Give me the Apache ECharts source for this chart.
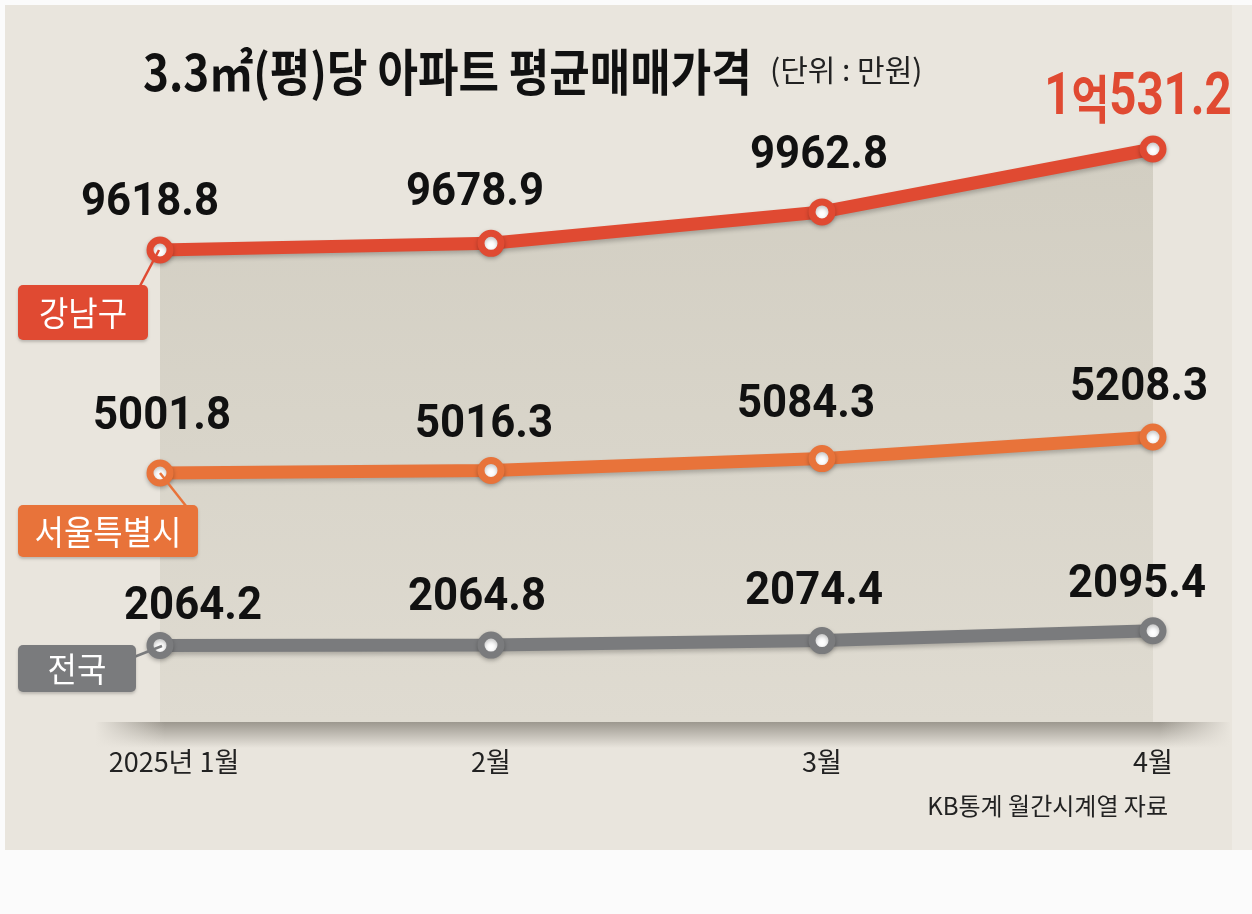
<!DOCTYPE html>
<html><head><meta charset="utf-8">
<script src="https://cdn.jsdelivr.net/npm/echarts@6/dist/echarts.min.js"></script>
<style>html,body{margin:0;padding:0;background:#fff}#c{width:1252px;height:914px}</style>
</head><body><div id="c"></div>
<script>
// ---- data ----
const months = ['2025년 1월', '2월', '3월', '4월'];
const gangnam = [9618.8, 9678.9, 9962.8, 10531.2];
const seoul = [5001.8, 5016.3, 5084.3, 5208.3];
const national = [2064.2, 2064.8, 2074.4, 2095.4];
const seriesNames = ['강남구', '서울특별시', '전국'];
const titleText = '3.3㎡(평)당 아파트 평균매매가격';
const unitText = '(단위 : 만원)';
const sourceText = 'KB통계 월간시계열 자료';

// ---- style ----
const RED = '#e04a32', ORANGE = '#e8733a', GREY = '#7a7b7d';
const BG = '#e9e5dd';
const NUM_FONT = "Roboto,'Noto Sans',sans-serif";
const KR_FONT = "'Noto Sans CJK KR','Noto Sans',sans-serif";
const GRID = {left: 160, right: 99, top: 100, bottom: 192};
// value-label nudges per point, relative to the point (style config)
const nudge = {
  red: [[-10, -46], [-16, -50], [-3, -55], [-15, -50]],
  orange: [[2, -55], [-7, -45], [-16, -53], [-14, -49]],
  grey: [[33, -38], [-14, -47], [-8, -48], [-16, -45]]
};

function labelText(v) {
  if (v >= 10000) {
    return {text: '{d|' + Math.floor(v / 10000) + '}{k|억}{d|' + (v % 10000).toFixed(1) + '}', big: true};
  }
  return {text: v.toFixed(1), big: false};
}

function lineSeries(name, data, color, axis, area) {
  const s = {
    name: name, type: 'line', yAxisIndex: axis, data: data,
    symbol: 'circle', symbolSize: 20,
    itemStyle: {color: '#fff', borderColor: color, borderWidth: 7,
      shadowColor: 'rgba(0,0,0,0.25)', shadowBlur: 4, shadowOffsetY: 2},
    lineStyle: {color: color, width: 13, shadowColor: 'rgba(0,0,0,0.22)', shadowBlur: 4, shadowOffsetY: 3},
    label: {show: false},
    emphasis: {disabled: true},
    silent: true,
    z: 3
  };
  if (area) {
    s.areaStyle = {
      origin: 'start', opacity: 1,
      color: new echarts.graphic.LinearGradient(0, 0, 0, 1, [
        {offset: 0, color: '#d2cec2'}, {offset: 1, color: '#dfdbd1'}
      ])
    };
  }
  return s;
}

function labelSeries(data, axis, sh) {
  return {
    type: 'custom', yAxisIndex: axis, clip: false, silent: true, z: 6,
    data: data.map((v, i) => [i, v]),
    renderItem: function (params, api) {
      const i = params.dataIndex;
      const p = api.coord([api.value(0), api.value(1)]);
      const t = labelText(api.value(1));
      return {
        type: 'text',
        x: p[0] + sh[i][0], y: p[1] + sh[i][1],
        scaleX: t.big ? 0.79 : 0.95,
        style: {
          text: t.text,
          fill: '#111',
          font: 'bold 46px ' + NUM_FONT,
          textAlign: 'center', textVerticalAlign: 'middle',
          rich: {
            d: {fontFamily: NUM_FONT, fontWeight: 'bold', fontSize: 60, fill: RED, color: RED},
            k: {fontFamily: KR_FONT, fontWeight: 'bold', fontSize: 52, fill: RED, color: RED}
          }
        }
      };
    }
  };
}

function nameBox(x, y, w, h, color, text, line) {
  return {
    type: 'group', children: [
      {type: 'polyline', z: 20, shape: {points: line}, style: {stroke: color, lineWidth: 2.5, fill: null}},
      {type: 'rect', z: 20, shape: {x: x, y: y, width: w, height: h, r: 5},
        style: {fill: color, shadowColor: 'rgba(0,0,0,0.2)', shadowBlur: 3, shadowOffsetY: 2}},
      {type: 'text', z: 21, x: x + w / 2, y: y + h / 2 + 1, scaleX: 0.94,
        style: {text: text, fill: '#fff', font: '400 34px ' + KR_FONT, textAlign: 'center', textVerticalAlign: 'middle'}}
    ]
  };
}

const chart = echarts.init(document.getElementById('c'), null, {renderer: 'canvas'});
const option = {
  backgroundColor: '#fbfbfb',
  animation: false,
  grid: GRID,
  xAxis: {
    type: 'category', boundaryGap: false,
    data: months.map((m, i) => i === 0 ? {value: m, textStyle: {padding: [0, 0, 0, 28]}} : m),
    axisLine: {show: false}, axisTick: {show: false}, splitLine: {show: false},
    axisLabel: {margin: 26, fontFamily: KR_FONT, fontSize: 27, color: '#222'}
  },
  yAxis: [
    {type: 'value', show: false, min: 5355.0, max: 10973.8, splitLine: {show: false}},
    {type: 'value', show: false, min: 3573.2, max: 7141.8, splitLine: {show: false}},
    {type: 'value', show: false, min: 1900.5, max: 3229.6, splitLine: {show: false}}
  ],
  series: [
    lineSeries(seriesNames[0], gangnam, RED, 0, true),
    lineSeries(seriesNames[1], seoul, ORANGE, 1, false),
    lineSeries(seriesNames[2], national, GREY, 2, false),
    labelSeries(gangnam, 0, nudge.red),
    labelSeries(seoul, 1, nudge.orange),
    labelSeries(national, 2, nudge.grey)
  ],
  graphic: [
    {type: 'rect', z: -10, shape: {x: 5, y: 5, width: 1227, height: 845}, style: {fill: BG}},
    {type: 'rect', z: -10, shape: {x: 1232, y: 5, width: 20, height: 845}, style: {fill: '#eeebe5'}},
    // baseline shadow
    {type: 'rect', z: -5, shape: {x: 95, y: 722, width: 1135, height: 26},
      style: {fill: new echarts.graphic.LinearGradient(0, 0, 0, 1, [
        {offset: 0, color: 'rgba(80,75,65,0.5)'}, {offset: 1, color: 'rgba(80,75,65,0)'}])}},
    {type: 'rect', z: -4, shape: {x: 95, y: 722, width: 70, height: 26},
      style: {fill: new echarts.graphic.LinearGradient(0, 0, 1, 0, [
        {offset: 0, color: BG}, {offset: 1, color: 'rgba(233,229,221,0)'}])}},
    {type: 'rect', z: -4, shape: {x: 1160, y: 722, width: 71, height: 26},
      style: {fill: new echarts.graphic.LinearGradient(0, 0, 1, 0, [
        {offset: 0, color: 'rgba(233,229,221,0)'}, {offset: 1, color: BG}])}},
    {type: 'text', z: 5, x: 143, y: 72, scaleX: 0.88,
      style: {text: titleText, fill: '#111', font: 'bold 50px ' + KR_FONT, textAlign: 'left', textVerticalAlign: 'middle'}},
    {type: 'text', z: 5, x: 770, y: 70,
      style: {text: unitText, fill: '#222', font: '400 30px ' + KR_FONT, textAlign: 'left', textVerticalAlign: 'middle'}},
    {type: 'text', z: 5, x: 1168, y: 806,
      style: {text: sourceText, fill: '#222', font: '400 24px ' + KR_FONT, textAlign: 'right', textVerticalAlign: 'middle'}},
    nameBox(18, 285, 130, 55, RED, seriesNames[0], [[140, 286], [159, 250]]),
    nameBox(18, 505, 180, 52, ORANGE, seriesNames[1], [[160, 473], [186, 506]]),
    nameBox(18, 645, 118, 47, GREY, seriesNames[2], [[134, 657], [162, 646]])
  ]
};
chart.setOption(option);
</script>
</body></html>
